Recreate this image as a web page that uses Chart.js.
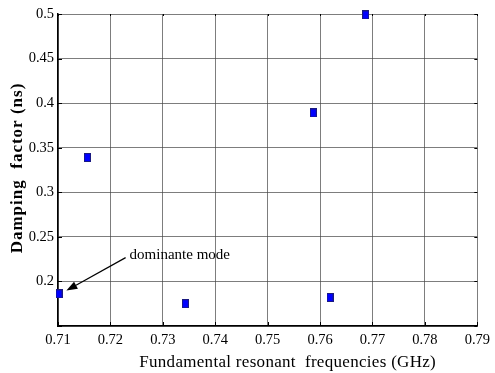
<!DOCTYPE html>
<html>
<head>
<meta charset="utf-8">
<script src="https://cdn.jsdelivr.net/npm/chart.js@4/dist/chart.umd.min.js"></script>
<style>
html,body{margin:0;padding:0;background:#fff;}
canvas{display:block;}
</style>
</head>
<body>
<canvas id="c" width="495" height="373"></canvas>
<script>
const freqs = [0.7102, 0.7156, 0.7343, 0.7587, 0.7619, 0.7687];
const damping = [0.186, 0.339, 0.175, 0.389, 0.182, 0.499];
const xTicks = [0.71, 0.72, 0.73, 0.74, 0.75, 0.76, 0.77, 0.78, 0.79];
const xTickLabels = ['0.71','0.72','0.73','0.74','0.75','0.76','0.77','0.78','0.79'];
const yTicks = [0.15, 0.2, 0.25, 0.3, 0.35, 0.4, 0.45, 0.5];
const yTickLabels = ['', '0.2','0.25','0.3','0.35','0.4','0.45','0.5'];
const xTitle = 'Fundamental resonant  frequencies (GHz)';
const yTitle = 'Damping  factor (ns)';
const annText = 'dominante mode';
const annTextPos = [0.7229, 0.2267];
const annArrowTip = [0.7116, 0.1898];

const marker = document.createElement('canvas');
marker.width = 7; marker.height = 9;
(function(){
  const m = marker.getContext('2d');
  m.fillStyle = '#0000ff';
  m.fillRect(0,0,7,9);
  m.strokeStyle = '#1a1a80';
  m.lineWidth = 1;
  m.strokeRect(0.5,0.5,6,8);
})();

const serif = 'Liberation Serif';

const extras = {
  id: 'extras',
  afterDatasetsDraw(chart) {
    const ctx = chart.ctx;
    const xs = chart.scales.x, ys = chart.scales.y;
    const a = chart.chartArea;
    ctx.save();
    ctx.strokeStyle = '#000';
    ctx.lineWidth = 1;
    ctx.beginPath();
    xTicks.forEach(v => {
      const px = Math.round(xs.getPixelForValue(v)) + 0.5;
      ctx.moveTo(px, a.bottom); ctx.lineTo(px, a.bottom - 4);
      ctx.moveTo(px, a.top); ctx.lineTo(px, a.top + 2);
    });
    yTicks.forEach(v => {
      const py = Math.round(ys.getPixelForValue(v)) + 0.5;
      ctx.moveTo(a.left, py); ctx.lineTo(a.left + 4, py);
      ctx.moveTo(a.right, py); ctx.lineTo(a.right - 3, py);
    });
    ctx.stroke();
    // annotation
    const tx = xs.getPixelForValue(annTextPos[0]);
    const ty = ys.getPixelForValue(annTextPos[1]);
    const hx = xs.getPixelForValue(annArrowTip[0]);
    const hy = ys.getPixelForValue(annArrowTip[1]);
    const ang = Math.atan2(hy - ty, hx - tx);
    const L = 11, W = 4;
    const bx = hx - L*Math.cos(ang), by = hy - L*Math.sin(ang);
    ctx.beginPath();
    ctx.moveTo(tx, ty); ctx.lineTo(bx, by);
    ctx.lineWidth = 1.2;
    ctx.stroke();
    ctx.beginPath();
    ctx.moveTo(hx, hy);
    ctx.lineTo(bx + W*Math.sin(ang), by - W*Math.cos(ang));
    ctx.lineTo(bx - W*Math.sin(ang), by + W*Math.cos(ang));
    ctx.closePath();
    ctx.fillStyle = '#000';
    ctx.fill();
    ctx.font = '15px "' + serif + '"';
    ctx.textAlign = 'left';
    ctx.textBaseline = 'middle';
    ctx.fillText(annText, tx + 4, ty - 3);
    ctx.restore();

    // axis titles
    ctx.save();
    ctx.fillStyle = '#000';
    ctx.textAlign = 'center';
    ctx.textBaseline = 'middle';
    ctx.font = '17px "' + serif + '"';
    if ('letterSpacing' in ctx) ctx.letterSpacing = '0.3px';
    ctx.fillText(xTitle, (a.left + a.right) / 2 + 20, chart.height - 10);
    ctx.restore();
    ctx.save();
    ctx.fillStyle = '#000';
    ctx.textAlign = 'center';
    ctx.textBaseline = 'middle';
    ctx.font = 'bold 17px "' + serif + '"';
    if ('letterSpacing' in ctx) ctx.letterSpacing = '1px';
    ctx.translate(18, (a.top + a.bottom) / 2 - 2);
    ctx.rotate(-Math.PI / 2);
    ctx.fillText(yTitle, 0, 0);
    ctx.restore();
  }
};

new Chart(document.getElementById('c'), {
  type: 'scatter',
  data: {
    datasets: [{
      data: freqs.map((f, i) => ({x: f, y: damping[i]})),
      pointStyle: marker,
      pointRadius: 5,
      backgroundColor: '#0000ff',
      borderColor: '#0000ff',
      clip: false
    }]
  },
  options: {
    responsive: false,
    animation: false,
    devicePixelRatio: 1,
    layout: { padding: { top: 14, right: 13, left: 0, bottom: 0 } },
    plugins: { legend: { display: false }, tooltip: { enabled: false } },
    scales: {
      x: {
        type: 'linear', min: 0.71, max: 0.79,
        afterBuildTicks(s) { s.ticks = xTicks.map(v => ({value: v})); },
        afterFit(s) { s.height = 47; },
        grid: { color: 'rgba(70,70,70,0.7)', lineWidth: 1, drawTicks: false, borderDash: [1, 1] },
        border: { display: true, color: '#000', width: 1.5 },
        ticks: {
          padding: 5, maxRotation: 0, autoSkip: false,
          color: '#000', font: { family: serif, size: 14.5 },
          callback: (v, i) => xTickLabels[i]
        },
        title: { display: false }
      },
      y: {
        type: 'linear', min: 0.15, max: 0.5,
        afterBuildTicks(s) { s.ticks = yTicks.map(v => ({value: v})); },
        afterFit(s) { s.width = 58; },
        grid: { color: 'rgba(70,70,70,0.7)', lineWidth: 1, drawTicks: false, borderDash: [1, 1] },
        border: { display: true, color: '#000', width: 1.5 },
        ticks: {
          padding: 4, autoSkip: false,
          color: '#000', font: { family: serif, size: 14.5 },
          callback: (v, i) => yTickLabels[i]
        },
        title: { display: false }
      }
    }
  },
  plugins: [extras]
});
</script>
</body>
</html>
